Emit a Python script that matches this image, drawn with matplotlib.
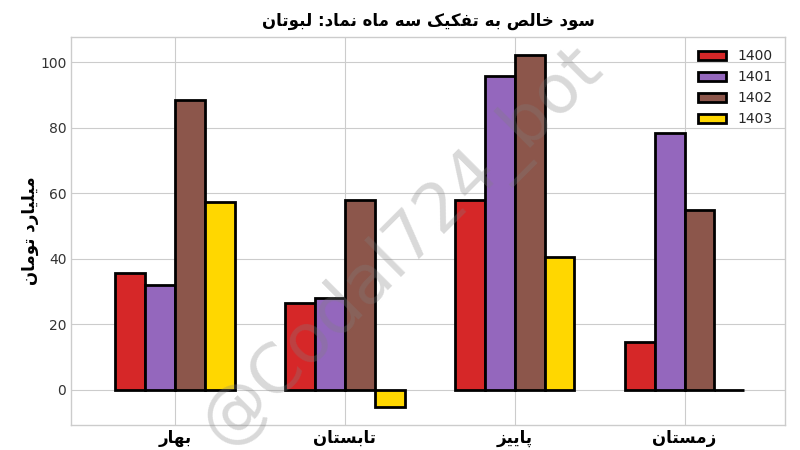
import numpy as np
import matplotlib
matplotlib.use("Agg")
import matplotlib.pyplot as plt

# ---- data ----
title_text = "سود خالص به تفکیک سه ماه نماد: لبوتان"
ylabel_text = "میلیارد تومان"
categories = ["بهار", "تابستان", "پاییز", "زمستان"]
years = ["1400", "1401", "1402", "1403"]
v1400 = [35.5, 26.5, 58.0, 14.5]
v1401 = [32.0, 28.0, 95.7, 78.5]
v1402 = [88.4, 58.0, 102.4, 55.0]
v1403 = [57.2, -5.4, 40.4, 0.0]
series = [v1400, v1401, v1402, v1403]
colors = ["#d62728", "#9467bd", "#8c564b", "#ffd700"]
watermark = "@Codal724_bot"

# ---- minimal Arabic/Persian shaping for display ----
FORMS = {
    'ا': ('\uFE8D', '\uFE8E', None, None),
    'ب': ('\uFE8F', '\uFE90', '\uFE91', '\uFE92'),
    'ت': ('\uFE95', '\uFE96', '\uFE97', '\uFE98'),
    'خ': ('\uFEA5', '\uFEA6', '\uFEA7', '\uFEA8'),
    'د': ('\uFEA9', '\uFEAA', None, None),
    'ر': ('\uFEAD', '\uFEAE', None, None),
    'ز': ('\uFEAF', '\uFEB0', None, None),
    'س': ('\uFEB1', '\uFEB2', '\uFEB3', '\uFEB4'),
    'ص': ('\uFEB9', '\uFEBA', '\uFEBB', '\uFEBC'),
    'ف': ('\uFED1', '\uFED2', '\uFED3', '\uFED4'),
    'ل': ('\uFEDD', '\uFEDE', '\uFEDF', '\uFEE0'),
    'م': ('\uFEE1', '\uFEE2', '\uFEE3', '\uFEE4'),
    'ن': ('\uFEE5', '\uFEE6', '\uFEE7', '\uFEE8'),
    'ه': ('\uFEE9', '\uFEEA', '\uFEEB', '\uFEEC'),
    'و': ('\uFEED', '\uFEEE', None, None),
    'پ': ('\uFB56', '\uFB57', '\uFB58', '\uFB59'),
    'ک': ('\uFB8E', '\uFB8F', '\uFB90', '\uFB91'),
    'ی': ('\uFBFC', '\uFBFD', '\uFBFE', '\uFBFF'),
}


def shape(text):
    out = []
    n = len(text)
    for i, ch in enumerate(text):
        if ch not in FORMS:
            out.append(ch)
            continue
        prev = text[i - 1] if i > 0 else ''
        nxt = text[i + 1] if i + 1 < n else ''
        iso, fin, ini, med = FORMS[ch]
        jp = prev in FORMS and FORMS[prev][2] is not None
        jn = nxt in FORMS and ini is not None
        if jp and jn:
            out.append(med)
        elif jp:
            out.append(fin)
        elif jn:
            out.append(ini)
        else:
            out.append(iso)
    return ''.join(reversed(out))


plt.style.use("seaborn-v0_8-whitegrid")
plt.rcParams['font.family'] = ['DejaVu Sans']

fig, ax = plt.subplots(figsize=(8, 4.5), dpi=100)
fig.subplots_adjust(left=0.089, right=0.981, top=0.918, bottom=0.056)

x = np.arange(len(categories))
w = 0.176
for k, (vals, c, lab) in enumerate(zip(series, colors, years)):
    ax.bar(x + (k - 1.5) * w, vals, width=w, color=c, edgecolor="black",
           linewidth=2, label=lab, zorder=3)

ax.set_xlim(-0.61, 3.59)
ax.set_xticks(x)
ax.set_xticklabels([shape(c) for c in categories], fontsize=12,
                   fontweight="bold", color="black")
ax.tick_params(axis='y', labelsize=10, colors="#333333")
ax.tick_params(axis='x', pad=3)
ax.set_ylabel(shape(ylabel_text), fontsize=12, fontweight="bold",
              color="black", labelpad=1)
ax.set_title(shape(title_text), fontsize=12, fontweight="bold",
             color="black", pad=8)
for s in ax.spines.values():
    s.set_color("#cccccc")
ax.legend(loc="upper right", fontsize=10, frameon=False)

fig.text(0.5025, 0.452, watermark, fontsize=49,
         color="gray", alpha=0.3, rotation=45, ha="center", va="center",
         zorder=5)

fig.savefig("out.png", dpi=100)
